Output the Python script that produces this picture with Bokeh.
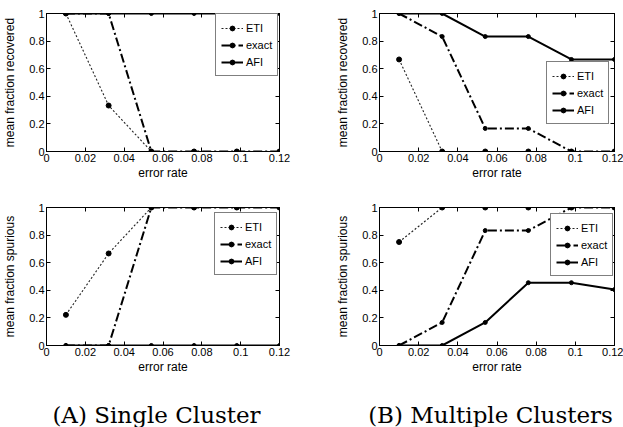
from bokeh.plotting import figure
from bokeh.layouts import column, row
from bokeh.models import (FixedTicker, LinearAxis, Range1d, Legend, LegendItem, Label,
                          CustomLabelingPolicy)
from bokeh.embed import file_html
from bokeh.resources import INLINE

# ---- data ----
error_rate = [0.01, 0.032, 0.054, 0.076, 0.098, 0.12]

single_recovered_eti = [1, 0.333, 0, 0, 0, 0]
single_recovered_exact = [1, 1, 0, 0, 0, 0]
single_recovered_afi = [1, 1, 1, 1, 1, 1]

multi_recovered_eti = [0.667, 0, 0, 0, 0, 0]
multi_recovered_exact = [1, 0.833, 0.167, 0.167, 0, 0]
multi_recovered_afi = [1, 1, 0.833, 0.833, 0.667, 0.667]

single_spurious_eti = [0.222, 0.667, 1, 1, 1, 1]
single_spurious_exact = [0, 0, 1, 1, 1, 1]
single_spurious_afi = [0, 0, 0, 0, 0, 0]

multi_spurious_eti = [0.75, 1, 1, 1, 1, 1]
multi_spurious_exact = [0, 0.167, 0.833, 0.833, 1, 1]
multi_spurious_afi = [0, 0, 0.167, 0.455, 0.455, 0.405]

series_names = ["ETI", "exact", "AFI"]
x_ticks = [0, 0.02, 0.04, 0.06, 0.08, 0.1, 0.12]
x_tick_labels = ["0", "0.02", "0.04", "0.06", "0.08", "0.1", "0.12"]
y_ticks = [0, 0.2, 0.4, 0.6, 0.8, 1]
y_tick_labels = ["0", "0.2", "0.4", "0.6", "0.8", "1"]
x_label = "error rate"
y_label_recovered = "mean fraction recovered"
y_label_spurious = "mean fraction spurious"
captions = ["(A) Single Cluster", "(B) Multiple Clusters"]

FONT = "Liberation Sans"

STYLES = {
    "ETI": dict(line_dash="2 2", line_width=1.1, size=5, color="#222222"),
    "exact": dict(line_dash="9 3 2 3", line_width=2, size=4, color="black"),
    "AFI": dict(line_dash="solid", line_width=2, size=4, color="black"),
}


def style_axis(ax, ticks, labels):
    ax.ticker = FixedTicker(ticks=ticks)
    ax.major_label_overrides = dict(zip(ticks, labels))
    ax.major_tick_in = 4
    ax.major_tick_out = 0
    ax.minor_tick_in = 0
    ax.minor_tick_out = 0
    ax.axis_line_color = "black"
    ax.major_tick_line_color = "black"
    ax.major_label_text_font = FONT
    ax.major_label_text_font_size = "11px"
    ax.major_label_text_color = "black"
    ax.major_label_standoff = 2
    ax.axis_label_text_font = FONT
    ax.axis_label_text_font_size = "12px"
    ax.axis_label_text_font_style = "normal"
    ax.axis_label_text_color = "black"


def bare_axis(ticks):
    ax = LinearAxis(ticker=FixedTicker(ticks=ticks))
    ax.major_label_policy = CustomLabelingPolicy(
        code="for (const i of Array.from(indices)) { indices.unset(i) }")
    ax.major_label_text_font_size = "1px"
    ax.major_tick_in = 4
    ax.major_tick_out = 0
    ax.minor_tick_in = 0
    ax.minor_tick_out = 0
    ax.major_label_standoff = 0
    ax.axis_line_color = "black"
    ax.major_tick_line_color = "black"
    return ax


def make_panel(width, height, borders, ylabel, ys, legend_loc):
    left, right, top, bottom = borders
    p = figure(width=width, height=height, output_backend="svg", toolbar_location=None,
               x_range=Range1d(0, 0.12), y_range=Range1d(0, 1),
               min_border_left=left, min_border_right=right,
               min_border_top=top, min_border_bottom=bottom,
               x_axis_label=x_label, y_axis_label=ylabel)
    p.xgrid.visible = False
    p.ygrid.visible = False
    p.outline_line_color = "black"
    style_axis(p.xaxis[0], x_ticks, x_tick_labels)
    style_axis(p.yaxis[0], y_ticks, y_tick_labels)
    p.xaxis[0].axis_label_standoff = 1
    p.yaxis[0].axis_label_standoff = 9
    p.add_layout(bare_axis(y_ticks), "right")
    p.add_layout(bare_axis(x_ticks), "above")

    items = []
    for name, y in zip(series_names, ys):
        st = STYLES[name]
        r1 = p.line(error_rate, y, line_color=st["color"], line_dash=st["line_dash"],
                    line_width=st["line_width"])
        r2 = p.scatter(error_rate, y, size=st["size"], fill_color="black", line_color="black")
        items.append(LegendItem(label=name, renderers=[r1, r2]))
    leg = Legend(items=items, location=legend_loc)
    leg.padding = 5
    leg.margin = 0
    leg.spacing = 0
    leg.label_height = 17
    leg.glyph_height = 12
    leg.glyph_width = 22
    leg.label_standoff = 3
    leg.label_text_font = FONT
    leg.label_text_font_size = "11px"
    leg.label_text_color = "black"
    leg.border_line_color = "black"
    leg.border_line_width = 1
    leg.background_fill_color = "white"
    leg.background_fill_alpha = 1
    p.add_layout(leg)
    return p


p1 = make_panel(329, 190, (45, 50, 13, 38), y_label_recovered,
                [single_recovered_eti, single_recovered_exact, single_recovered_afi], (169, 75))
p2 = make_panel(294, 190, (50, 9, 9, 39), y_label_recovered,
                [multi_recovered_eti, multi_recovered_exact, multi_recovered_afi], (167, 27))
p3 = make_panel(329, 190, (45, 50, 17, 35), y_label_spurious,
                [single_spurious_eti, single_spurious_exact, single_spurious_afi], (168, 70))
p4 = make_panel(294, 190, (50, 9, 14, 35), y_label_spurious,
                [multi_spurious_eti, multi_spurious_exact, multi_spurious_afi], (171, 69))

cap = figure(width=623, height=47, output_backend="svg", toolbar_location=None,
             x_range=Range1d(0, 623), y_range=Range1d(0, 47), min_border=0,
             x_axis_location=None, y_axis_location=None)
cap.xgrid.visible = False
cap.ygrid.visible = False
cap.outline_line_color = None
for cx, text in zip([156, 490], captions):
    cap.add_layout(Label(x=cx, y=13, x_units="screen", y_units="screen", text=text,
                         text_align="center", text_baseline="middle",
                         text_font="DejaVu Serif", text_font_size="23px", text_color="black"))

layout = column(row(p1, p2), row(p3, p4), cap)

open("out.html", "w").write(file_html(layout, INLINE))
